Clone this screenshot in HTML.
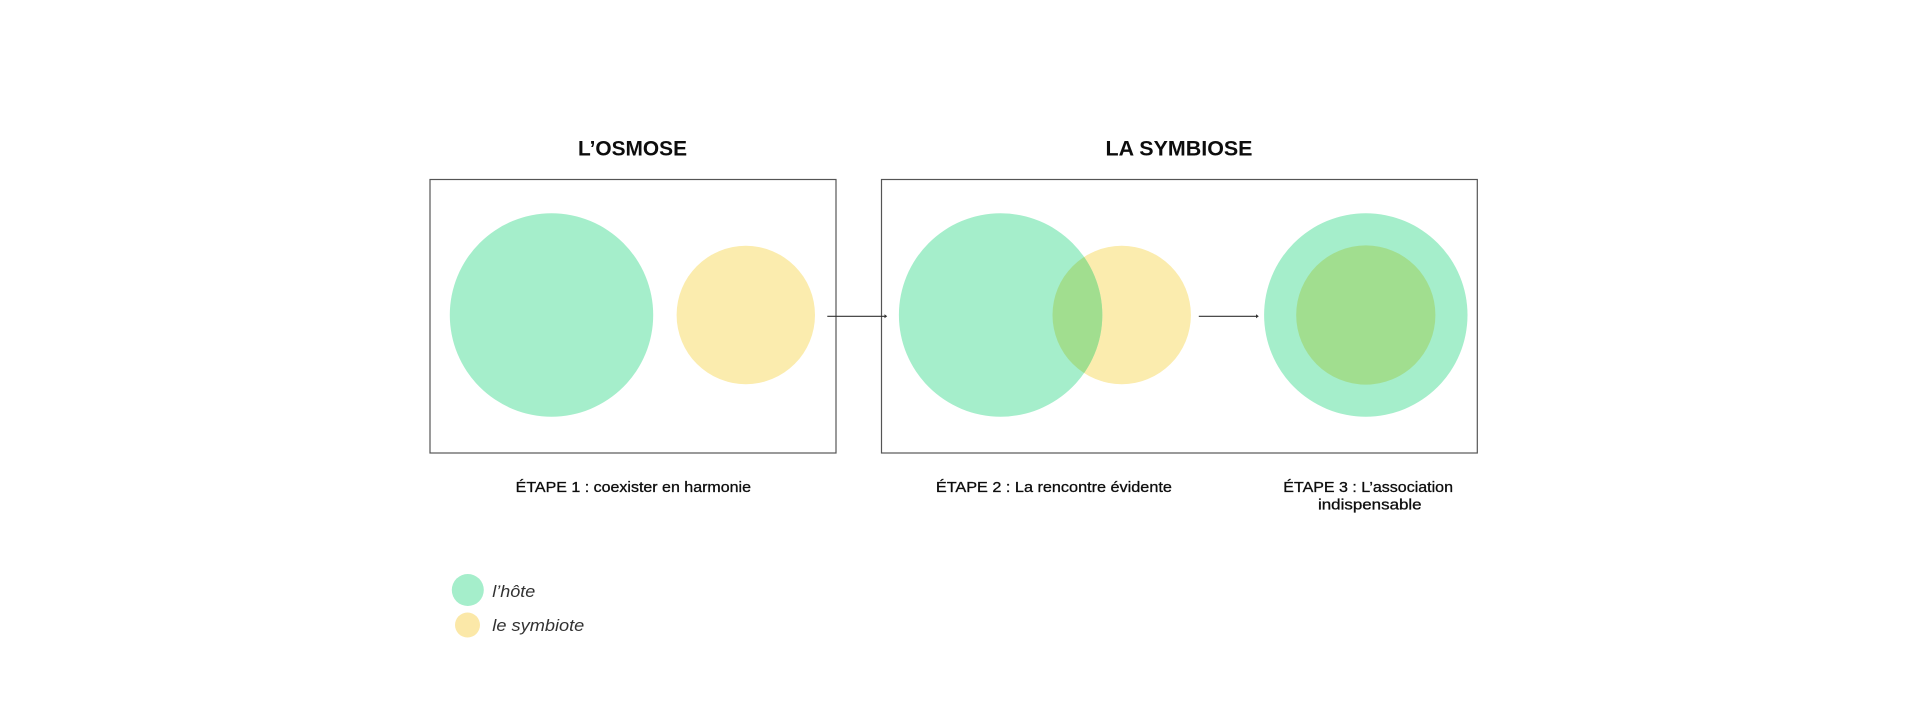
<!DOCTYPE html>
<html lang="fr"><head><meta charset="utf-8"><title>L'osmose et la symbiose</title>
<style>html,body{margin:0;padding:0;background:#fff}svg{display:block}
text{font-family:"Liberation Sans",sans-serif;fill:#111}
.t{font-size:21.5px;font-weight:bold;fill:#0c0c0c}
.l{font-size:14.5px;stroke:#111;stroke-width:.3px}
.i{font-size:17px;font-style:italic;fill:#333}</style></head>
<body>
<svg width="1919" height="709" viewBox="0 0 1919 709" xmlns="http://www.w3.org/2000/svg">
<defs><filter id="b" x="-5%" y="-5%" width="110%" height="110%"><feGaussianBlur stdDeviation="0.35"/></filter></defs>
<rect width="1919" height="709" fill="#fff"/>
<g filter="url(#b)">
<text class="t" x="578" y="155.5" textLength="109" lengthAdjust="spacingAndGlyphs">L’OSMOSE</text>
<text class="t" x="1105.5" y="155.5" textLength="147" lengthAdjust="spacingAndGlyphs">LA SYMBIOSE</text>
<rect x="430" y="179.5" width="406" height="273.5" fill="none" stroke="#555" stroke-width="1.2"/>
<rect x="881.5" y="179.5" width="595.8" height="273.5" fill="none" stroke="#555" stroke-width="1.2"/>
<circle cx="551.5" cy="315" r="101.7" fill="#a5eecb"/>
<circle cx="745.8" cy="315" r="69.2" fill="#fbecae"/>
<circle cx="1121.7" cy="315" r="69.2" fill="#fbecae"/>
<circle cx="1000.6" cy="315" r="101.7" fill="#a5eecb"/>
<clipPath id="c"><circle cx="1000.6" cy="315" r="101.7"/></clipPath>
<circle cx="1121.7" cy="315" r="69.2" fill="#a1de8f" clip-path="url(#c)"/>
<circle cx="1365.8" cy="315" r="101.7" fill="#a5eecb"/>
<circle cx="1365.8" cy="315" r="69.6" fill="#a1de8f"/>
<path d="M827.3 316.3H886" stroke="#333" stroke-width="1.2" fill="none"/>
<path d="M884.5 314.3L887.2 316.3L884.5 318.3Z" fill="#333"/>
<path d="M1198.8 316.3H1258" stroke="#333" stroke-width="1.2" fill="none"/>
<path d="M1256 314.3L1258.8 316.3L1256 318.3Z" fill="#333"/>
<text class="l" x="515.7" y="491.8" textLength="235.3" lengthAdjust="spacingAndGlyphs">ÉTAPE 1 : coexister en harmonie</text>
<text class="l" x="935.9" y="491.8" textLength="236" lengthAdjust="spacingAndGlyphs">ÉTAPE 2 : La rencontre évidente</text>
<text class="l" x="1283.3" y="491.8" textLength="169.7" lengthAdjust="spacingAndGlyphs">ÉTAPE 3 : L’association</text>
<text class="l" x="1318" y="509.5" textLength="103.6" lengthAdjust="spacingAndGlyphs">indispensable</text>
<circle cx="467.8" cy="590" r="16" fill="#a5eecb"/>
<circle cx="467.5" cy="625" r="12.5" fill="#fbe8a8"/>
<text class="i" x="492.3" y="597.2" textLength="43" lengthAdjust="spacingAndGlyphs">l’hôte</text>
<text class="i" x="492.3" y="631.2" textLength="92" lengthAdjust="spacingAndGlyphs">le symbiote</text>
</g>
</svg>
</body></html>
